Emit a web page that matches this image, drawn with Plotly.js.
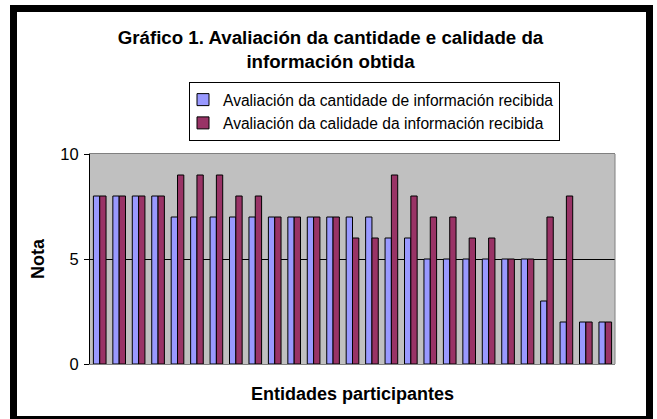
<!DOCTYPE html>
<html>
<head>
<meta charset="utf-8">
<script src="https://cdn.plot.ly/plotly-3.0.1.min.js"></script>
<style>
html,body{margin:0;padding:0;background:#fff;}
#wrap{position:relative;width:657px;height:419px;overflow:hidden;}
#chart{position:absolute;left:0;top:0;width:657px;height:419px;}
#frame{position:absolute;left:10px;top:5px;width:643px;height:418px;box-sizing:border-box;border:7px solid #000;pointer-events:none;}
</style>
</head>
<body>
<div id="wrap"><div id="chart"></div><div id="frame"></div></div>
<script>
const categories = ["1","2","3","4","5","6","7","8","9","10","11","12","13","14","15","16","17","18","19","20","21","22","23","24","25","26","27"];
const cantidade = [8,8,8,8,7,7,7,7,7,7,7,7,7,7,7,6,6,5,5,5,5,5,5,3,2,2,2];
const calidade  = [8,8,8,8,9,9,9,8,8,7,7,7,7,6,6,9,8,7,7,6,6,5,5,7,8,2,2];
const seriesNames = ["Avaliación da cantidade de información recibida","Avaliación da calidade da información recibida"];
const yTicks = [0,5,10];

const FONT = "Arial, 'Liberation Sans', sans-serif";

const data = [
  {type:"bar", x:categories, y:cantidade, name:seriesNames[0],
   marker:{color:"#9999FF", line:{color:"#000", width:1}}},
  {type:"bar", x:categories, y:calidade, name:seriesNames[1],
   marker:{color:"#993366", line:{color:"#000", width:1}}}
];

const layout = {
  width:657, height:419,
  margin:{l:90, r:42, t:154, b:55, pad:0},
  paper_bgcolor:"#fff", plot_bgcolor:"#C0C0C0",
  font:{family:FONT, color:"#000", size:13},
  barmode:"group", bargap:0.35, bargroupgap:0,
  showlegend:true,
  title:{text:"<b>Gráfico 1. Avaliación da cantidade e calidade da<br>información obtida</b>",
         font:{family:FONT, size:18.7, color:"#000"},
         x:0.503, xanchor:"center", xref:"container",
         y:1-44/419, yanchor:"middle", yref:"container"},
  legend:{x:0.1886, xanchor:"left", y:1.343, yanchor:"top",
          bgcolor:"#fff", bordercolor:"#000", borderwidth:1,
          font:{family:FONT, size:15.6, color:"#000"},
          traceorder:"normal", itemwidth:30, indentation:-7},
  xaxis:{type:"category", showticklabels:false, ticks:"", showgrid:false,
         showline:true, linecolor:"#808080", linewidth:1, mirror:true, zeroline:false,
         title:{text:"<b>Entidades participantes</b>", font:{family:FONT, size:18, color:"#000"}, standoff:23},
         automargin:false},
  yaxis:{range:[0,10], tickvals:yTicks, ticktext:yTicks.map(String),
         ticks:"outside", ticklen:5, tickcolor:"#000", tickwidth:1,
         showgrid:true, gridcolor:"#000", gridwidth:1,
         showline:true, linecolor:"#000", linewidth:1, zeroline:false,
         tickfont:{family:FONT, size:16.5, color:"#000"}, ticklabelstandoff:2,
         title:{text:"<b>Nota</b>", font:{family:FONT, size:18, color:"#000"}, standoff:11},
         automargin:false},
  shapes:[
    {type:"line", xref:"paper", yref:"paper", x0:1, x1:1, y0:0, y1:1, line:{color:"#808080", width:1}}
  ]
};

Plotly.newPlot("chart", data, layout, {displayModeBar:false, staticPlot:true});
</script>
</body>
</html>
